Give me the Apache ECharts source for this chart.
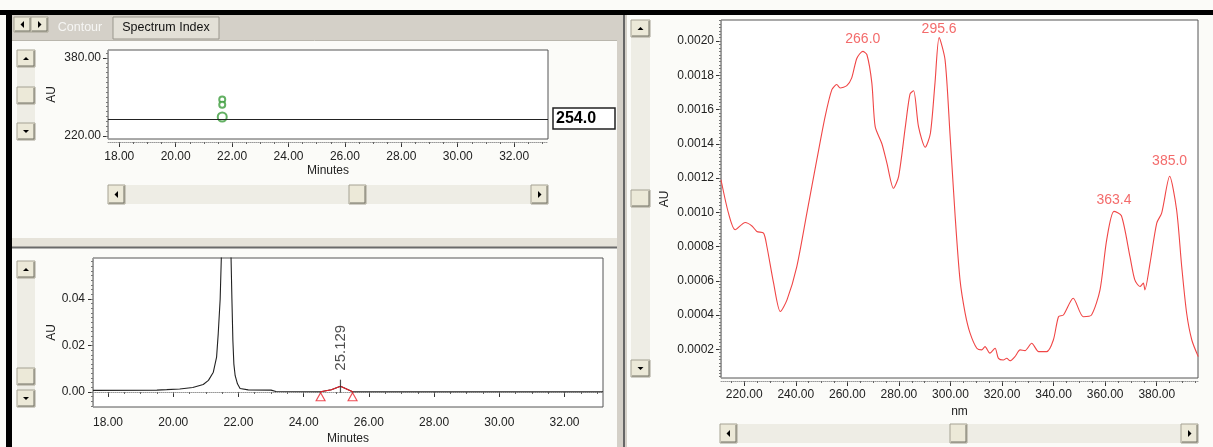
<!DOCTYPE html>
<html><head><meta charset="utf-8">
<script src="https://cdn.jsdelivr.net/npm/echarts@6/dist/echarts.min.js"></script>
<style>html,body{margin:0;padding:0;background:#fff}#c{width:1213px;height:447px}</style>
</head><body><div id="c"></div>
<script>
// ---------------- data ----------------
const timeTicks = [18, 20, 22, 24, 26, 28, 30, 32];
const contourNmTicks = [220, 380];
const chromAuTicks = [0.00, 0.02, 0.04];
const nmTicks = [220, 240, 260, 280, 300, 320, 340, 360, 380];
const specAuTicks = [0.0002, 0.0004, 0.0006, 0.0008, 0.0010, 0.0012, 0.0014, 0.0016, 0.0018, 0.0020];

// contour plot (time, wavelength, ring size)
const contourTime = [21.65, 21.65, 21.65];
const contourNm = [295, 284, 259];
const contourRing = [6, 6, 9];
const selectedWavelength = 254.0;

// chromatogram at 254 nm: [minutes, AU]
const chromatogram = [
  [17.54, 0.0007], [19.5, 0.0008], [19.8, 0.0010], [20.2, 0.0013], [20.6, 0.0019],
  [20.92, 0.0032], [21.08, 0.0050], [21.23, 0.0085], [21.33, 0.015], [21.38, 0.025],
  [21.44, 0.040], [21.48, 0.060], [21.63, 0.16], [21.77, 0.060], [21.80, 0.040],
  [21.83, 0.022], [21.86, 0.012], [21.90, 0.007], [21.97, 0.0035], [22.05, 0.0015],
  [22.3, 0.0009], [23.0, 0.0008], [23.15, 0.0002], [24.52, 0.0001], [24.85, 0.0010],
  [25.129, 0.0025], [25.35, 0.0011], [25.5, 0.0001], [33.18, 0.0001]
];
const integratedPeak = [[24.52, 0.0001], [24.85, 0.0010], [25.129, 0.0025], [25.5, 0.0001]];
const peakRetention = 25.129;
const peakApexAu = 0.0025;

// UV spectrum: [nm, AU]
const spectrum = [
  [211, 0.00119], [213.9, 0.000995], [216.5, 0.000898], [220.4, 0.00094], [223, 0.00092],
  [224.9, 0.000888], [227.5, 0.000878], [228.8, 0.0008], [231.4, 0.000586], [234, 0.00042],
  [236.6, 0.000488], [240.4, 0.000683], [244.3, 0.000995], [248.2, 0.00131], [251.4, 0.00156],
  [254, 0.001716], [255.9, 0.001746], [257.2, 0.001726], [259.8, 0.00174], [261.7, 0.001785],
  [263.7, 0.0019], [266.0, 0.00194], [267.6, 0.00192], [269.5, 0.001756], [270.8, 0.0015],
  [273.4, 0.0014], [275.3, 0.00129], [277.9, 0.00114], [279.9, 0.00121], [282.5, 0.0015],
  [284.3, 0.00169], [285.7, 0.00171], [287.6, 0.0015], [290.2, 0.00138], [292.2, 0.00146],
  [294, 0.001756], [295.6, 0.00202], [297.9, 0.00189], [299.8, 0.00146], [301.8, 0.00098],
  [303.7, 0.000605], [305.7, 0.00041], [307.6, 0.000294], [310.2, 0.000206], [312.1, 0.000196],
  [313.4, 0.000215], [315.3, 0.000177], [317.3, 0.000206], [318.6, 0.000147], [320.5, 0.000137],
  [321.8, 0.000147], [323.1, 0.000133], [325, 0.000157], [327, 0.000196], [328.9, 0.000192],
  [331.5, 0.000235], [334.2, 0.000186], [337.3, 0.000186], [339.9, 0.000254], [341.9, 0.00039],
  [343.8, 0.0004], [347.6, 0.000498], [351.5, 0.00039], [354.7, 0.0004], [358, 0.000547],
  [360.6, 0.00084], [363.4, 0.001005], [366.3, 0.00098], [369.6, 0.000742], [371.5, 0.000605],
  [373.5, 0.000566], [374.8, 0.000586], [375.4, 0.000547], [377.4, 0.000703], [380, 0.000937],
  [381.9, 0.000995], [385.0, 0.00121], [387.7, 0.001015], [389.7, 0.00068], [391.6, 0.00041],
  [393.6, 0.000254], [396.1, 0.000157]
];
const spectrumPeakNm = [266.0, 295.6, 363.4, 385.0];
const spectrumPeakAu = [0.00194, 0.00202, 0.001005, 0.00121];
const spectrumPeakGap = [5, 1, 4, 8];

// ---------------- helpers ----------------
const FONT = '"Liberation Sans", Arial, sans-serif';
function steps(a, b, s) { const o = []; for (let v = a; v <= b + s / 1000; v += s) o.push(+v.toFixed(6)); return o; }

function xAxes(grid, min, max, ticks, minors, dec, name, margin, gap) {
  return [{
    type: 'value', gridIndex: grid, min, max, position: 'bottom', offset: 3,
    name, nameLocation: 'middle', nameGap: gap,
    nameTextStyle: { color: '#222', fontSize: 12, fontFamily: FONT },
    axisLine: { show: false },
    axisTick: { show: true, length: 5, customValues: ticks, lineStyle: { color: '#333' } },
    axisLabel: { customValues: ticks, formatter: v => v.toFixed(dec), margin, color: '#222', fontSize: 12, fontFamily: FONT },
    splitLine: { show: false }
  }, {
    type: 'value', gridIndex: grid, min, max, position: 'bottom', offset: 3,
    axisLine: { show: true, lineStyle: { color: '#999', type: 'dotted' } },
    axisTick: { show: true, length: 2, customValues: minors, lineStyle: { color: '#666' } },
    axisLabel: { show: false }, splitLine: { show: false }
  }];
}
function yAxes(grid, min, max, ticks, minors, dec, margin, gap) {
  return [{
    type: 'value', gridIndex: grid, min, max, position: 'left',
    name: 'AU', nameLocation: 'middle', nameGap: gap, nameRotate: 90,
    nameTextStyle: { color: '#222', fontSize: 12, fontFamily: FONT },
    axisLine: { show: false },
    axisTick: { show: true, length: 5, customValues: ticks, lineStyle: { color: '#333' } },
    axisLabel: { customValues: ticks, formatter: v => v.toFixed(dec), margin, color: '#222', fontSize: 12, fontFamily: FONT },
    splitLine: { show: false }
  }, {
    type: 'value', gridIndex: grid, min, max, position: 'left',
    axisLine: { show: true, lineStyle: { color: '#999', type: 'dotted' } },
    axisTick: { show: true, length: 2, customValues: minors, lineStyle: { color: '#777' } },
    axisLabel: { show: false }, splitLine: { show: false }
  }];
}

// UI chrome helpers (Windows-classic widgets)
function button(x, y, w, h, dir) {
  const els = [
    { type: 'rect', shape: { x, y, width: w, height: h }, style: { fill: '#ece9d8', stroke: '#a5a293', lineWidth: 1 } },
    { type: 'polyline', shape: { points: [[x + 1, y + h - 1], [x + w - 1, y + h - 1], [x + w - 1, y + 1]] }, style: { stroke: '#716f64', lineWidth: 1, fill: null } }
  ];
  const cx = x + w / 2, cy = y + h / 2;
  let pts = null;
  if (dir === 'up') pts = [[cx - 3, cy + 1.5], [cx + 3, cy + 1.5], [cx, cy - 1.5]];
  if (dir === 'down') pts = [[cx - 3, cy - 1.5], [cx + 3, cy - 1.5], [cx, cy + 1.5]];
  if (dir === 'left') pts = [[cx + 1.5, cy - 3.5], [cx + 1.5, cy + 3.5], [cx - 2, cy]];
  if (dir === 'right') pts = [[cx - 1.5, cy - 3.5], [cx - 1.5, cy + 3.5], [cx + 2, cy]];
  if (pts) els.push({ type: 'polygon', shape: { points: pts }, style: { fill: '#000' } });
  return els;
}
function vScroll(x, y, w, h, thumbY) {
  return [{ type: 'rect', shape: { x, y, width: w, height: h }, style: { fill: '#eeede5' } }]
    .concat(button(x, y, w, 17, 'up'), button(x, thumbY, w, 17, null), button(x, y + h - 17, w, 17, 'down'));
}
function hScroll(x, y, w, h, thumbX) {
  return [{ type: 'rect', shape: { x, y, width: w, height: h }, style: { fill: '#eeede5' } }]
    .concat(button(x, y, 17, h, 'left'), button(thumbX, y, 17, h, null), button(x + w - 17, y, 17, h, 'right'));
}

const chrome = [].concat(
  [
    { type: 'rect', shape: { x: 0, y: 10, width: 1213, height: 5 }, style: { fill: '#000' } },
    { type: 'rect', shape: { x: 6, y: 10, width: 6, height: 437 }, style: { fill: '#000' } },
    { type: 'rect', shape: { x: 12, y: 15, width: 605, height: 25 }, style: { fill: '#d4d0c8' } },
    { type: 'line', shape: { x1: 12, y1: 40.5, x2: 617, y2: 40.5 }, style: { stroke: '#b9b6ad', lineWidth: 1 } },
    { type: 'rect', shape: { x: 113, y: 17, width: 106, height: 22 }, style: { fill: '#e3e0d7', stroke: '#9a978d', lineWidth: 1 } },
    { type: 'text', x: 166, y: 28, style: { text: 'Spectrum Index', fill: '#111', font: '12.5px ' + FONT, align: 'center', verticalAlign: 'middle' } },
    { type: 'text', x: 80, y: 28, style: { text: 'Contour', fill: '#f6f6f4', font: '12.5px ' + FONT, align: 'center', verticalAlign: 'middle' } },
    // panel dividers
    { type: 'rect', shape: { x: 12, y: 238, width: 605, height: 9 }, style: { fill: '#e6e3da' } },
    { type: 'line', shape: { x1: 12, y1: 247.5, x2: 617, y2: 247.5 }, style: { stroke: '#6a6a6a', lineWidth: 2 } },
    { type: 'rect', shape: { x: 617, y: 15, width: 10, height: 432 }, style: { fill: '#d4d0c8' } },
    { type: 'line', shape: { x1: 624, y1: 15, x2: 624, y2: 447 }, style: { stroke: '#666', lineWidth: 2 } },
    // 254.0 wavelength box
    { type: 'rect', shape: { x: 553, y: 108, width: 62, height: 21 }, style: { fill: '#fff', stroke: '#222', lineWidth: 1.5 } },
    { type: 'text', x: 556, y: 119, style: { text: selectedWavelength.toFixed(1), fill: '#000', font: 'bold 16px ' + FONT, verticalAlign: 'middle' } }
  ],
  button(14, 17, 17, 15, 'left'), button(31, 17, 17, 15, 'right'),
  vScroll(17, 50, 18, 90, 87), hScroll(108, 185, 440, 19, 349),
  vScroll(17, 261, 18, 146, 368),
  vScroll(631, 20, 19, 357, 190), hScroll(720, 424, 478, 19, 950)
);

// ---------------- option ----------------
const gridBase = { show: true, backgroundColor: '#fff', borderColor: '#555', borderWidth: 1, containLabel: false, outerBoundsMode: 'none' };
const option = {
  animation: false,
  backgroundColor: '#fbfbf8',
  graphic: { elements: chrome },
  grid: [
    Object.assign({ left: 108, top: 50, width: 440, height: 89 }, gridBase),
    Object.assign({ left: 93, top: 258, width: 510, height: 149 }, gridBase),
    Object.assign({ left: 721, top: 20, width: 477, height: 358 }, gridBase)
  ],
  xAxis: [].concat(
    xAxes(0, 17.6, 33.2, timeTicks, steps(18, 33, 0.5), 2, 'Minutes', 9, 23),
    xAxes(1, 17.54, 33.18, timeTicks, steps(17.5, 33, 0.5), 2, 'Minutes', 7, 23),
    xAxes(2, 211, 396, nmTicks, steps(215, 395, 5), 2, 'nm', 8, 24)
  ),
  yAxis: [].concat(
    yAxes(0, 213.85, 396.4, contourNmTicks, steps(220, 390, 10), 2, 7, 50),
    yAxes(1, -0.00645, 0.0576, chromAuTicks, steps(-0.006, 0.056, 0.002), 2, 8, 35),
    yAxes(2, 0.000032, 0.002123, specAuTicks, steps(0.00004, 0.00212, 0.00002), 4, 7, 50)
  ),
  series: [
    {
      type: 'scatter', xAxisIndex: 0, yAxisIndex: 0,
      data: contourTime.map((t, i) => [t, contourNm[i], contourRing[i]]),
      symbol: 'emptyCircle', symbolSize: d => d[2],
      itemStyle: { color: '#3c9c3c', borderWidth: 1.3 },
      markLine: {
        silent: true, symbol: 'none', label: { show: false },
        lineStyle: { color: '#222', type: 'solid', width: 1 },
        data: [{ yAxis: selectedWavelength }]
      }
    },
    {
      type: 'line', xAxisIndex: 2, yAxisIndex: 2, data: chromatogram,
      showSymbol: false, lineStyle: { color: '#222', width: 1.1 }, z: 3
    },
    {
      type: 'line', xAxisIndex: 2, yAxisIndex: 2, data: integratedPeak,
      showSymbol: false, lineStyle: { color: '#e8202a', width: 1.1 }, z: 4
    },
    {
      type: 'scatter', xAxisIndex: 2, yAxisIndex: 2,
      data: [integratedPeak[0], integratedPeak[integratedPeak.length - 1]],
      symbol: 'triangle', symbolSize: [9, 8], symbolOffset: [0, 5],
      itemStyle: { color: '#fff', borderColor: '#e8202a', borderWidth: 1.1 }, z: 5
    },
    {
      type: 'scatter', xAxisIndex: 2, yAxisIndex: 2,
      data: [[peakRetention, peakApexAu]],
      symbol: 'rect', symbolSize: [1.2, 13],
      itemStyle: { color: '#222' }, z: 6,
      label: {
        show: true, formatter: () => peakRetention.toFixed(3), position: 'top', distance: 9,
        rotate: 90, align: 'left', verticalAlign: 'middle',
        color: '#222', fontSize: 15, fontFamily: FONT
      }
    },
    {
      type: 'line', xAxisIndex: 4, yAxisIndex: 4, data: spectrum,
      showSymbol: false, smooth: 0.25, lineStyle: { color: '#f04646', width: 1.1 }
    },
    {
      type: 'scatter', xAxisIndex: 4, yAxisIndex: 4,
      data: spectrumPeakNm.map((n, i) => ({ value: [n, spectrumPeakAu[i]], label: { distance: spectrumPeakGap[i] } })),
      symbolSize: 0,
      label: {
        show: true, position: 'top', formatter: p => p.value[0].toFixed(1),
        color: '#f04646', fontSize: 14, fontFamily: FONT
      }
    }
  ]
};
const chart = echarts.init(document.getElementById('c'), null, { renderer: 'canvas' });
chart.setOption(option);
</script>
</body></html>
